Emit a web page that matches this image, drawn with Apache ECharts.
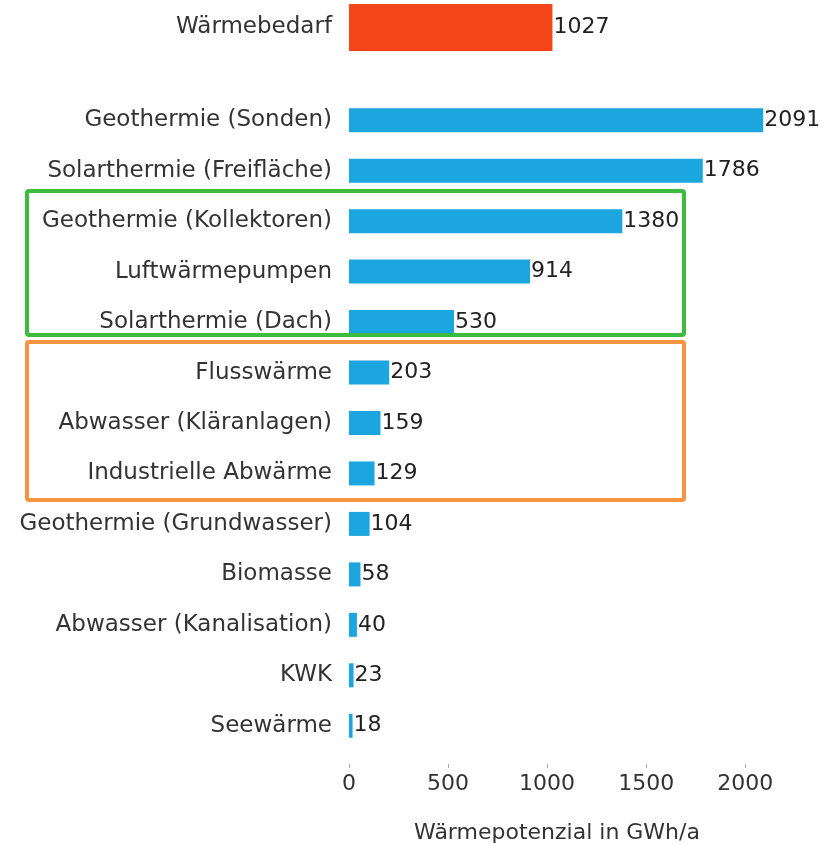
<!DOCTYPE html>
<html>
<head>
<meta charset="utf-8">
<script src="https://cdn.jsdelivr.net/npm/echarts@6/dist/echarts.min.js"></script>
<style>
  html, body { margin: 0; padding: 0; background: #fff; }
  #chart { width: 825px; height: 846px; }
</style>
</head>
<body>
<div id="chart"></div>
<script>
// Wärmebedarf (Referenz)
const demandCategories = ['Wärmebedarf'];
const demandValues = [1027];

// Wärmepotenziale je Quelle
const sourceCategories = [
  'Geothermie (Sonden)',
  'Solarthermie (Freifläche)',
  'Geothermie (Kollektoren)',
  'Luftwärmepumpen',
  'Solarthermie (Dach)',
  'Flusswärme',
  'Abwasser (Kläranlagen)',
  'Industrielle Abwärme',
  'Geothermie (Grundwasser)',
  'Biomasse',
  'Abwasser (Kanalisation)',
  'KWK',
  'Seewärme'
];
const sourceValues = [2091, 1786, 1380, 914, 530, 203, 159, 129, 104, 58, 40, 23, 18];

const xTicks = [0, 500, 1000, 1500, 2000];

const FONT = 'DejaVu Sans';
const chart = echarts.init(document.getElementById('chart'));

const valueLabel = {
  show: true,
  position: 'right',
  distance: 1,
  color: '#222',
  fontFamily: FONT,
  fontSize: 22
};

const option = {
  backgroundColor: '#fff',
  animation: false,
  grid: [
    { left: 349, right: 60, top: 4, height: 47, outerBoundsMode: 'none' },
    { left: 349, right: 60, top: 95, bottom: 95, outerBoundsMode: 'none' }
  ],
  xAxis: [
    { gridIndex: 0, type: 'value', min: 0, max: 2100, show: false },
    {
      gridIndex: 1,
      type: 'value',
      min: 0,
      max: 2100,
      interval: 500,
      offset: 13,
      splitLine: { show: false },
      axisLine: { show: false },
      axisTick: { show: true, length: 4, lineStyle: { color: '#aaa' } },
      axisLabel: {
        showMaxLabel: false,
        margin: 9,
        color: '#333',
        fontFamily: FONT,
        fontSize: 22,
        formatter: v => (xTicks.indexOf(v) >= 0 ? String(v) : '')
      },
      name: 'Wärmepotenzial in GWh/a',
      nameLocation: 'middle',
      nameGap: 58,
      nameTextStyle: { color: '#333', fontFamily: FONT, fontSize: 22 }
    }
  ],
  yAxis: [
    {
      gridIndex: 0,
      type: 'category',
      inverse: true,
      data: demandCategories,
      axisLine: { show: false },
      axisTick: { show: false },
      axisLabel: { margin: 17, color: '#333', fontFamily: FONT, fontSize: 23 }
    },
    {
      gridIndex: 1,
      type: 'category',
      inverse: true,
      data: sourceCategories,
      axisLine: { show: false },
      axisTick: { show: false },
      axisLabel: { margin: 17, color: '#333', fontFamily: FONT, fontSize: 23 }
    }
  ],
  series: [
    {
      name: 'Wärmebedarf',
      type: 'bar',
      xAxisIndex: 0,
      yAxisIndex: 0,
      data: demandValues,
      barWidth: 47,
      itemStyle: { color: '#f5461a' },
      label: valueLabel
    },
    {
      name: 'Wärmepotenzial',
      type: 'bar',
      xAxisIndex: 1,
      yAxisIndex: 1,
      data: sourceValues,
      barWidth: 24,
      itemStyle: { color: '#1ca6e0' },
      label: valueLabel
    }
  ],
  graphic: [
    {
      type: 'rect',
      shape: { x: 27, y: 191, width: 657, height: 144, r: 2 },
      style: { fill: 'none', stroke: '#3cbb3c', lineWidth: 4 },
      z: 10
    },
    {
      type: 'rect',
      shape: { x: 27, y: 342, width: 657, height: 158, r: 2 },
      style: { fill: 'none', stroke: '#f7943f', lineWidth: 4 },
      z: 10
    }
  ]
};

chart.setOption(option);
</script>
</body>
</html>
